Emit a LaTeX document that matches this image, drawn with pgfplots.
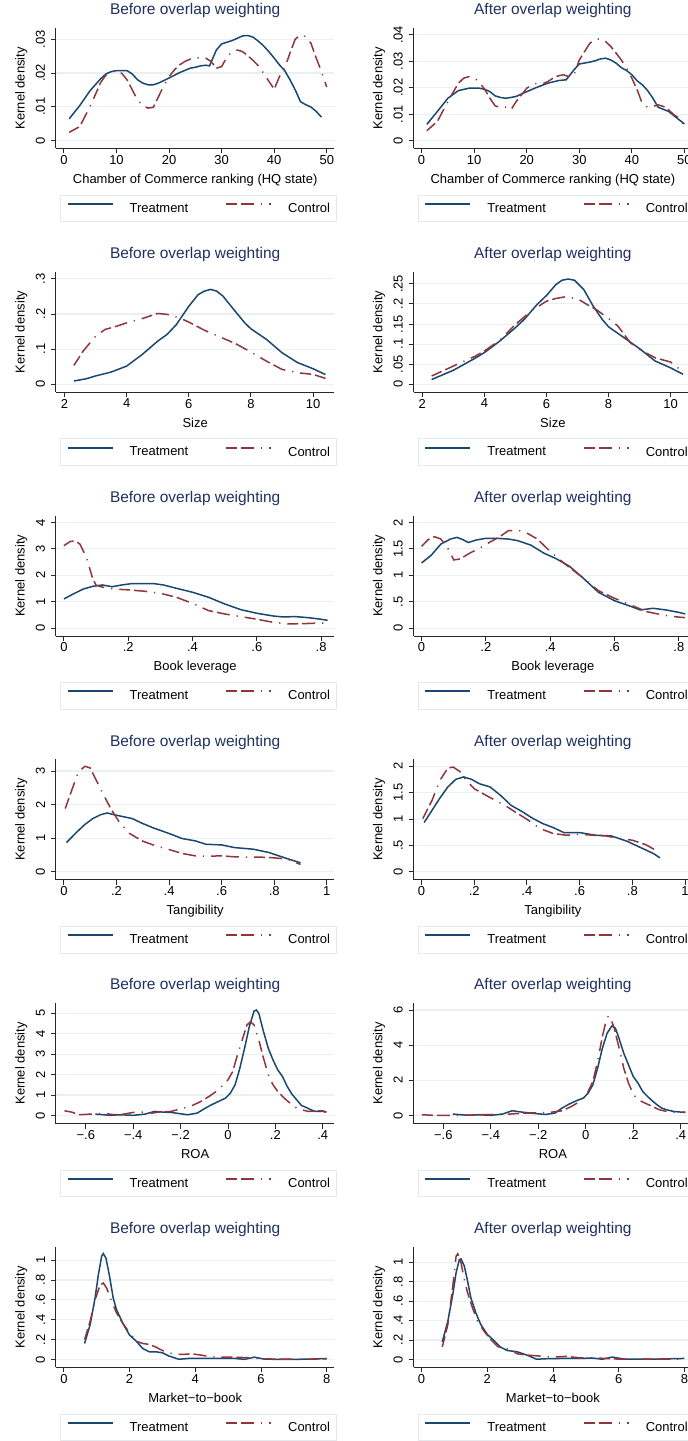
\documentclass[border=0pt]{standalone}
\usepackage{fontspec}
\setmainfont{Liberation Sans}
\usepackage{pgfplots}
\pgfplotsset{compat=1.18}

\definecolor{treat}{RGB}{26,71,111}
\definecolor{ctrl}{RGB}{144,53,59}
\definecolor{titlec}{RGB}{32,48,98}
\definecolor{gridc}{RGB}{232,240,242}
\definecolor{axisc}{RGB}{40,40,40}
\definecolor{legc}{RGB}{228,234,236}

\pgfplotsset{
  kd/.style={
    scale only axis, width=279pt, height=120.7pt, anchor=north west,
    axis lines*=left, axis line style={-, draw=axisc, line width=0.9pt},
    tick align=outside, major tick length=5pt,
    tick style={draw=axisc, line width=0.9pt},
    ymajorgrids, major grid style={draw=gridc, line width=1.1pt},
    scaled ticks=false,
    tick label style={font=\fontsize{13}{15}\selectfont, inner sep=0pt},
    xticklabel style={anchor=north}, xticklabel shift=1.6pt,
    yticklabel style={rotate=90, anchor=south}, yticklabel shift=5.7pt,
    label style={font=\fontsize{13}{15}\selectfont, inner sep=0pt},
    title style={at={(axis description cs:0.5,1.0605)}, anchor=base,
      font=\fontsize{15.5}{18}\selectfont, text=titlec, inner sep=0pt},
    xlabel style={at={(axis description cs:0.5,-0.29)}, anchor=base},
    ylabel style={at={(axis description cs:-0.1122,0.5)}, anchor=base},
    ylabel={Kernel density},
    legend columns=2, legend cell align=left,
    legend style={at={(axis description cs:0.016,-0.3836)}, anchor=north west,
      draw=legc, line width=0.8pt, fill=white,
      inner xsep=6pt, inner ysep=7.8pt,
      font=\fontsize{13}{15}\selectfont,
      nodes={inner sep=0pt},
      column sep=16pt,
      /tikz/every even column/.append style={column sep=37pt}},
    legend image code/.code={\draw[#1, line width=2pt] (0pt,4.6pt) -- (45pt,4.6pt);},
    every axis plot/.append style={line width=1.5pt, no markers},
  },
  tr/.style={draw=treat, solid},
  co/.style={draw=ctrl, dash pattern=on 11pt off 4pt on 13pt off 7pt on 1.2pt off 7pt},
}

\begin{document}
\begin{tikzpicture}[trim left=0pt, trim right=689pt]
\path (0pt,0pt) (0pt,-1441pt);

% ---- Row 1: Chamber of Commerce ranking
\begin{axis}[kd, at={(56pt,-28pt)}, title={Before overlap weighting},
  xlabel={Chamber of Commerce ranking (HQ state)},
  xmin=-1.52, xmax=51.46, ymin=-0.00237, ymax=0.03334,
  xtick={0,10,20,30,40,50}, xticklabels={0,10,20,30,40,50},
  ytick={0,0.01,0.02,0.03}, yticklabels={0,.01,.02,.03}]
\addplot[tr] coordinates {(1,.0064) (3,.0103) (5,.0148) (7,.0183) (8,.0197) (9,.0204) (10,.0207) (12,.0207) (13,.0197) (14,.018) (15,.017) (16,.0165) (17,.0165) (18,.017) (20,.0185) (22,.0201) (24,.0214) (25,.0217) (26,.0221) (27,.0223) (27.7,.0221) (29,.0268) (30,.0286) (31,.0291) (32,.0296) (33,.0303) (34,.031) (35,.0311) (36,.0306) (37,.0294) (38,.028) (39,.0263) (40,.0244) (41,.0224) (42,.0207) (43,.018) (44,.015) (45,.0115) (46,.0106) (47,.0099) (48,.0086) (49,.0069)};
\addlegendentry{Treatment}
\addplot[co] coordinates {(1,.0024) (3,.0041) (5,.0101) (7,.0172) (8,.0194) (9,.0204) (10,.0206) (11,.0199) (12,.018) (13,.015) (14,.012) (15,.0103) (16,.0096) (17,.0098) (18,.013) (19,.0162) (20,.0189) (21,.0209) (22,.0224) (23,.0234) (24,.0241) (25,.0246) (26,.0244) (27,.0244) (28,.0234) (29,.0214) (30,.0219) (31,.0247) (32,.0263) (33,.0268) (34,.0263) (35,.0251) (36,.0237) (37,.0221) (38,.0199) (39,.0175) (40,.0152) (41,.0189) (42,.0214) (43,.0259) (44,.03) (45,.0313) (46,.0308) (47,.0288) (48,.0244) (49,.0204) (50,.0158)};
\addlegendentry{Control}
\end{axis}

\begin{axis}[kd, at={(414.3pt,-28pt)}, title={After overlap weighting},
  xlabel={Chamber of Commerce ranking (HQ state)},
  xmin=-1.52, xmax=51.46, ymin=-0.00303, ymax=0.04265,
  xtick={0,10,20,30,40,50}, xticklabels={0,10,20,30,40,50},
  ytick={0,0.01,0.02,0.03,0.04}, yticklabels={0,.01,.02,.03,.04}]
\addplot[tr] coordinates {(1,.0061) (3,.011) (5,.016) (7,.0189) (9,.0198) (11,.0198) (12,.0194) (13,.0185) (14,.0169) (15,.0163) (16,.016) (17,.0163) (18,.0167) (20,.0185) (22,.0202) (24,.0217) (26,.0227) (27.5,.023) (29,.0268) (30,.029) (32,.0297) (33,.0302) (34,.0309) (35,.0312) (36,.0305) (37,.0293) (38,.0276) (39,.0265) (40,.0249) (41,.0226) (42,.0211) (43,.0189) (44,.016) (45,.0126) (47,.011) (49,.0078) (50,.0063)};
\addlegendentry{Treatment}
\addplot[co] coordinates {(1,.0037) (3,.0072) (5,.0148) (7,.0217) (8,.0236) (9,.0242) (10,.0238) (11,.022) (12,.0194) (13,.016) (14,.0131) (15,.0125) (16,.0126) (17,.0116) (18,.0148) (19,.0173) (20,.0198) (21,.0211) (22,.0217) (23,.0215) (24,.0223) (25,.0236) (26,.0245) (27,.0249) (28,.0242) (29,.0249) (30,.0305) (31,.0337) (32,.0368) (33,.0384) (34,.0385) (35,.0375) (36,.0356) (37,.0331) (38,.0305) (39,.0274) (40,.0236) (41,.0192) (42,.0139) (43,.0126) (44,.0129) (45,.0135) (46,.0129) (47,.0116) (48,.0097) (49,.0085) (50,.0056)};
\addlegendentry{Control}
\end{axis}

% ---- Row 2: Size
\begin{axis}[kd, at={(56pt,-272.2pt)}, title={Before overlap weighting},
  xlabel={Size},
  xmin=1.72, xmax=10.69, ymin=-0.0224, ymax=0.3202,
  xtick={2,4,6,8,10}, xticklabels={2,4,6,8,10},
  ytick={0,0.1,0.2,0.3}, yticklabels={0,.1,.2,.3}]
\addplot[tr] coordinates {(2.3,.0095) (2.7,.016) (3.0,.024) (3.5,.035) (4.0,.052) (4.5,.085) (5.0,.123) (5.3,.142) (5.6,.170) (6.0,.222) (6.3,.255) (6.5,.265) (6.7,.270) (6.9,.265) (7.1,.251) (7.4,.218) (7.8,.175) (8.0,.158) (8.5,.128) (9.0,.090) (9.5,.062) (10.0,.0445) (10.4,.028)};
\addlegendentry{Treatment}
\addplot[co] coordinates {(2.3,.054) (2.6,.095) (3.0,.137) (3.3,.156) (3.7,.166) (4.0,.175) (4.5,.187) (5.0,.2016) (5.3,.199) (5.7,.189) (6.0,.177) (6.5,.154) (7.0,.135) (7.5,.116) (8.0,.092) (8.5,.066) (9.0,.0426) (9.5,.033) (10.0,.0284) (10.4,.017)};
\addlegendentry{Control}
\end{axis}

\begin{axis}[kd, at={(414.3pt,-272.2pt)}, title={After overlap weighting},
  xlabel={Size},
  xmin=1.72, xmax=10.69, ymin=-0.0196, ymax=0.2801,
  xtick={2,4,6,8,10}, xticklabels={2,4,6,8,10},
  ytick={0,0.05,0.1,0.15,0.2,0.25}, yticklabels={0,.05,.1,.15,.2,.25}]
\addplot[tr] coordinates {(2.3,.012) (3.0,.035) (3.7,.065) (4.0,.079) (4.5,.108) (5.0,.141) (5.3,.163) (5.7,.199) (6.0,.221) (6.3,.248) (6.5,.259) (6.7,.262) (6.9,.259) (7.2,.236) (7.5,.195) (7.8,.161) (8.0,.143) (8.5,.116) (9.0,.0886) (9.5,.058) (10.0,.041) (10.4,.025)};
\addlegendentry{Treatment}
\addplot[co] coordinates {(2.3,.0207) (3.0,.0455) (3.7,.070) (4.0,.083) (4.5,.110) (5.0,.149) (5.5,.182) (6.0,.207) (6.3,.2136) (6.6,.2177) (7.0,.2127) (7.3,.199) (7.6,.186) (8.0,.164) (8.3,.145) (8.7,.1035) (9.0,.087) (9.5,.066) (10.0,.0555) (10.4,.0306)};
\addlegendentry{Control}
\end{axis}

% ---- Row 3: Book leverage
\begin{axis}[kd, at={(56pt,-516.4pt)}, title={Before overlap weighting},
  xlabel={Book leverage},
  xmin=-0.0248, xmax=0.8413, ymin=-0.294, ymax=4.26,
  xtick={0,0.2,0.4,0.6,0.8}, xticklabels={0,.2,.4,.6,.8},
  ytick={0,1,2,3,4}, yticklabels={0,1,2,3,4}]
\addplot[tr] coordinates {(0,1.107) (.03,1.30) (.06,1.48) (.09,1.585) (.12,1.635) (.15,1.57) (.18,1.635) (.21,1.686) (.25,1.686) (.28,1.686) (.31,1.635) (.35,1.51) (.40,1.36) (.45,1.17) (.50,.918) (.55,.704) (.60,.566) (.65,.465) (.68,.428) (.72,.44) (.76,.40) (.80,.34) (.82,.30)};
\addlegendentry{Treatment}
\addplot[co] coordinates {(0,3.12) (.02,3.28) (.035,3.30) (.05,3.18) (.07,2.68) (.09,1.86) (.10,1.63) (.12,1.55) (.16,1.48) (.20,1.45) (.25,1.40) (.30,1.32) (.35,1.17) (.40,.94) (.45,.667) (.50,.54) (.55,.44) (.60,.34) (.65,.226) (.70,.164) (.75,.176) (.80,.20) (.82,.176)};
\addlegendentry{Control}
\end{axis}

\begin{axis}[kd, at={(414.3pt,-516.4pt)}, title={After overlap weighting},
  xlabel={Book leverage},
  xmin=-0.0248, xmax=0.8413, ymin=-0.147, ymax=2.13,
  xtick={0,0.2,0.4,0.6,0.8}, xticklabels={0,.2,.4,.6,.8},
  ytick={0,0.5,1,1.5,2}, yticklabels={0,.5,1,1.5,2}]
\addplot[tr] coordinates {(0,1.233) (.03,1.38) (.06,1.59) (.09,1.686) (.11,1.717) (.13,1.67) (.145,1.62) (.17,1.667) (.20,1.70) (.23,1.70) (.27,1.686) (.30,1.654) (.34,1.57) (.38,1.42) (.42,1.31) (.46,1.17) (.50,.962) (.55,.68) (.60,.52) (.65,.415) (.68,.346) (.72,.377) (.76,.346) (.80,.30) (.82,.27)};
\addlegendentry{Treatment}
\addplot[co] coordinates {(0,1.547) (.02,1.673) (.04,1.73) (.06,1.686) (.08,1.53) (.10,1.29) (.12,1.31) (.15,1.42) (.18,1.51) (.21,1.62) (.24,1.717) (.27,1.843) (.30,1.855) (.33,1.79) (.36,1.686) (.40,1.45) (.45,1.195) (.50,.962) (.55,.71) (.60,.566) (.65,.44) (.70,.314) (.75,.25) (.80,.21) (.82,.20)};
\addlegendentry{Control}
\end{axis}

% ---- Row 4: Tangibility
\begin{axis}[kd, at={(56pt,-760.6pt)}, title={Before overlap weighting},
  xlabel={Tangibility},
  xmin=-0.0304, xmax=1.029, ymin=-0.238, ymax=3.347,
  xtick={0,0.2,0.4,0.6,0.8,1}, xticklabels={0,.2,.4,.6,.8,1},
  ytick={0,1,2,3}, yticklabels={0,1,2,3}]
\addplot[tr] coordinates {(.01,.871) (.05,1.19) (.08,1.41) (.11,1.584) (.14,1.70) (.165,1.75) (.19,1.70) (.22,1.65) (.26,1.584) (.30,1.436) (.34,1.307) (.40,1.14) (.45,.99) (.50,.92) (.54,.82) (.60,.80) (.65,.72) (.72,.673) (.78,.574) (.84,.416) (.90,.267)};
\addlegendentry{Treatment}
\addplot[co] coordinates {(.005,1.88) (.03,2.43) (.055,2.97) (.08,3.14) (.10,3.09) (.12,2.77) (.15,2.30) (.18,1.86) (.21,1.485) (.25,1.14) (.30,.911) (.35,.772) (.40,.663) (.45,.545) (.50,.475) (.55,.465) (.60,.475) (.65,.446) (.70,.436) (.75,.436) (.80,.416) (.85,.376) (.90,.218)};
\addlegendentry{Control}
\end{axis}

\begin{axis}[kd, at={(414.3pt,-760.6pt)}, title={After overlap weighting},
  xlabel={Tangibility},
  xmin=-0.030, xmax=1.027, ymin=-0.152, ymax=2.134,
  xtick={0,0.2,0.4,0.6,0.8,1}, xticklabels={0,.2,.4,.6,.8,1},
  ytick={0,0.5,1,1.5,2}, yticklabels={0,.5,1,1.5,2}]
\addplot[tr] coordinates {(.01,.934) (.04,1.167) (.07,1.40) (.10,1.61) (.13,1.754) (.16,1.80) (.19,1.754) (.22,1.67) (.26,1.61) (.30,1.45) (.34,1.26) (.38,1.148) (.42,1.02) (.46,.915) (.50,.839) (.54,.744) (.60,.744) (.66,.694) (.72,.681) (.78,.58) (.84,.44) (.88,.347) (.905,.265)};
\addlegendentry{Treatment}
\addplot[co] coordinates {(.005,1.01) (.04,1.356) (.07,1.735) (.10,1.968) (.12,1.987) (.145,1.905) (.17,1.735) (.20,1.577) (.24,1.464) (.28,1.356) (.32,1.25) (.36,1.12) (.40,.997) (.45,.82) (.50,.726) (.55,.694) (.60,.713) (.65,.694) (.70,.681) (.75,.631) (.80,.60) (.85,.517) (.905,.366)};
\addlegendentry{Control}
\end{axis}

% ---- Row 5: ROA
\begin{axis}[kd, at={(56pt,-1004.8pt)}, title={Before overlap weighting},
  xlabel={ROA},
  xmin=-0.7264, xmax=0.4493, ymin=-0.40, ymax=5.50,
  xtick={-0.6,-0.4,-0.2,0,0.2,0.4}, xticklabels={−.6,−.4,−.2,0,.2,.4},
  ytick={0,1,2,3,4,5}, yticklabels={0,1,2,3,4,5}]
\addplot[tr] coordinates {(-.56,.065) (-.50,.01) (-.45,.03) (-.40,.005) (-.35,.065) (-.31,.195) (-.27,.16) (-.24,.147) (-.20,.08) (-.17,.033) (-.13,.114) (-.10,.326) (-.07,.52) (-.04,.684) (-.01,.85) (.01,1.09) (.03,1.50) (.05,2.31) (.07,3.29) (.09,4.35) (.11,5.11) (.12,5.16) (.13,5.0) (.15,4.10) (.17,3.29) (.19,2.72) (.21,2.23) (.23,1.905) (.25,1.417) (.27,1.04) (.29,.765) (.31,.489) (.33,.39) (.35,.277) (.37,.195) (.40,.195) (.415,.163)};
\addlegendentry{Treatment}
\addplot[co] coordinates {(-.69,.228) (-.66,.163) (-.63,.033) (-.58,.065) (-.52,.098) (-.48,.033) (-.44,.065) (-.40,.147) (-.36,.163) (-.32,.114) (-.28,.18) (-.24,.195) (-.20,.326) (-.16,.44) (-.12,.65) (-.08,.93) (-.04,1.254) (0,1.74) (.02,2.15) (.04,2.96) (.06,3.70) (.08,4.43) (.095,4.59) (.11,4.43) (.13,3.70) (.15,2.80) (.17,1.99) (.19,1.50) (.21,1.17) (.23,.93) (.25,.717) (.27,.52) (.29,.358) (.31,.277) (.34,.195) (.37,.228) (.40,.228) (.415,.163)};
\addlegendentry{Control}
\end{axis}

\begin{axis}[kd, at={(414.3pt,-1004.8pt)}, title={After overlap weighting},
  xlabel={ROA},
  xmin=-0.725, xmax=0.448, ymin=-0.466, ymax=6.39,
  xtick={-0.6,-0.4,-0.2,0,0.2,0.4}, xticklabels={−.6,−.4,−.2,0,.2,.4},
  ytick={0,2,4,6}, yticklabels={0,2,4,6}]
\addplot[tr] coordinates {(-.56,.076) (-.50,.01) (-.45,.038) (-.40,.005) (-.35,.076) (-.31,.265) (-.27,.19) (-.22,.114) (-.17,.057) (-.13,.13) (-.10,.416) (-.07,.644) (-.04,.833) (-.01,.984) (.01,1.27) (.03,1.74) (.05,2.69) (.07,3.82) (.09,4.68) (.11,5.09) (.125,4.96) (.14,4.39) (.16,3.54) (.18,2.88) (.20,2.215) (.22,1.84) (.24,1.36) (.26,1.08) (.28,.833) (.30,.606) (.32,.416) (.34,.32) (.37,.227) (.40,.19) (.42,.19)};
\addlegendentry{Treatment}
\addplot[co] coordinates {(-.69,.038) (-.64,.005) (-.58,.005) (-.50,.01) (-.44,.038) (-.38,.057) (-.32,.076) (-.26,.13) (-.20,.15) (-.14,.19) (-.10,.265) (-.06,.51) (-.02,.833) (.01,1.36) (.03,1.93) (.05,3.07) (.07,4.49) (.085,5.34) (.095,5.66) (.105,5.53) (.12,4.96) (.14,3.86) (.16,2.69) (.18,1.84) (.20,1.21) (.22,.89) (.25,.70) (.28,.51) (.31,.32) (.34,.227) (.37,.17) (.42,.17)};
\addlegendentry{Control}
\end{axis}

% ---- Row 6: Market-to-book
\begin{axis}[kd, at={(56pt,-1249pt)}, title={Before overlap weighting},
  xlabel={Market−to−book},
  xmin=-0.243, xmax=8.234, ymin=-0.080, ymax=1.134,
  xtick={0,2,4,6,8}, xticklabels={0,2,4,6,8},
  ytick={0,0.2,0.4,0.6,0.8,1}, yticklabels={0,.2,.4,.6,.8,1}]
\addplot[tr] coordinates {(.63,.161) (.8,.352) (.95,.62) (1.05,.856) (1.15,1.04) (1.2,1.067) (1.28,1.02) (1.38,.856) (1.5,.62) (1.6,.503) (1.8,.36) (2.0,.245) (2.2,.185) (2.4,.11) (2.6,.077) (2.8,.077) (3.0,.067) (3.2,.034) (3.5,.002) (3.8,.01) (4.2,.01) (4.8,.01) (5.2,.01) (5.5,.001) (5.8,.023) (6.1,.003) (6.5,.001) (7.0,.001) (7.5,.003) (8.0,.01)};
\addlegendentry{Treatment}
\addplot[co] coordinates {(.63,.20) (.8,.386) (.95,.60) (1.1,.748) (1.2,.77) (1.3,.72) (1.45,.587) (1.6,.47) (1.8,.36) (2.0,.268) (2.2,.185) (2.4,.161) (2.6,.151) (2.8,.124) (3.0,.09) (3.3,.057) (3.6,.05) (3.9,.057) (4.3,.037) (4.7,.023) (5.2,.023) (5.6,.017) (6.0,.007) (6.5,.003) (7.0,.003) (7.5,.003) (8.0,.007)};
\addlegendentry{Control}
\end{axis}

\begin{axis}[kd, at={(414.3pt,-1249pt)}, title={After overlap weighting},
  xlabel={Market−to−book},
  xmin=-0.243, xmax=8.234, ymin=-0.082, ymax=1.157,
  xtick={0,2,4,6,8}, xticklabels={0,2,4,6,8},
  ytick={0,0.2,0.4,0.6,0.8,1}, yticklabels={0,.2,.4,.6,.8,1}]
\addplot[tr] coordinates {(.63,.18) (.8,.394) (.95,.668) (1.05,.89) (1.15,1.027) (1.2,1.034) (1.3,.96) (1.4,.805) (1.5,.634) (1.65,.48) (1.8,.36) (2.0,.257) (2.2,.195) (2.4,.127) (2.6,.092) (2.9,.079) (3.2,.045) (3.5,.002) (3.8,.007) (4.3,.01) (4.8,.01) (5.2,.014) (5.5,.002) (5.8,.024) (6.2,.002) (7.0,.002) (8.0,.01)};
\addlegendentry{Treatment}
\addplot[co] coordinates {(.63,.127) (.8,.36) (.95,.753) (1.05,1.06) (1.1,1.086) (1.2,.993) (1.3,.822) (1.4,.685) (1.55,.53) (1.7,.394) (1.9,.291) (2.1,.205) (2.3,.137) (2.5,.103) (2.7,.113) (2.9,.058) (3.2,.045) (3.6,.034) (4.0,.024) (4.4,.031) (4.8,.017) (5.2,.017) (5.6,.01) (6.0,.003) (7.0,.003) (8.0,.003)};
\addlegendentry{Control}
\end{axis}
\end{tikzpicture}
\end{document}
